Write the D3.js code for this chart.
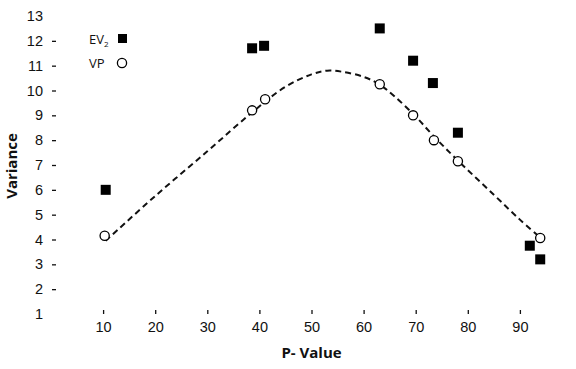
<!DOCTYPE html>
<html lang="en">
<head>
    <meta charset="UTF-8">
    <title>Variance vs P-Value</title>
    <style>
        body { margin: 0; background: #fff; }
        svg { display: block; font-family: "Open Sans", sans-serif; }
        .tick text { font-size: 14.5px; fill: #111; }
        .tick line { stroke: #111; stroke-width: 1.3; }
        .axis-title { font-size: 15px; font-weight: bold; fill: #111; }
    </style>
</head>
<body>
    <svg id="chart" width="576" height="369"></svg>

    <script src="https://d3js.org/d3.v7.min.js"></script>
    <script>
        // EV2 (filled squares)
        var ev2X = [10.5, 38.6, 40.9, 63.1, 69.5, 73.3, 78.1, 91.9, 93.9];
        var ev2Y = [6.0, 11.7, 11.8, 12.5, 11.2, 10.3, 8.3, 3.75, 3.2];

        // VP (open circles)
        var vpX = [10.3, 38.6, 41.1, 63.1, 69.5, 73.5, 78.1, 93.9];
        var vpY = [4.15, 9.2, 9.65, 10.25, 9.0, 8.0, 7.15, 4.06];

        // dashed fitted curve
        var fitX = [10.5, 20, 30, 38.5, 45, 50, 53, 56, 60, 63, 66, 70, 73.5, 78, 85, 90, 93.5];
        var fitY = [3.95, 5.75, 7.55, 9.1, 10.15, 10.65, 10.8, 10.75, 10.55, 10.25, 9.75, 8.95, 8.15, 7.2, 5.8, 4.8, 4.15];

        var xTicks = [10, 20, 30, 40, 50, 60, 70, 80, 90];
        var yTicks = [1, 2, 3, 4, 5, 6, 7, 8, 9, 10, 11, 12, 13];

        var svg = d3.select('#chart');

        var x = d3.scaleLinear().domain([0, 100]).range([51, 572]);
        var y = d3.scaleLinear().domain([1, 13]).range([314, 16]);

        // Y axis (no domain line, no dash at 1 and 13)
        var yAxis = svg.append('g')
            .attr('transform', 'translate(56,0)')
            .call(d3.axisLeft(y).tickValues(yTicks).tickSize(4).tickPadding(9));
        yAxis.select('.domain').remove();
        yAxis.selectAll('.tick').filter(d => d === 1 || d === 13).select('line').remove();

        // X axis
        var xAxis = svg.append('g')
            .attr('transform', 'translate(0,310)')
            .call(d3.axisBottom(x).tickValues(xTicks).tickSize(4).tickPadding(8));
        xAxis.select('.domain').remove();

        // Axis titles
        svg.append('text')
            .attr('class', 'axis-title')
            .attr('x', x(50))
            .attr('y', 358)
            .attr('text-anchor', 'middle')
            .text('P- Value');

        svg.append('text')
            .attr('class', 'axis-title')
            .attr('transform', 'translate(17,166) rotate(-90)')
            .attr('text-anchor', 'middle')
            .text('Variance');

        // Fitted curve
        var line = d3.line()
            .x(d => x(d[0]))
            .y(d => y(d[1]))
            .curve(d3.curveCatmullRom);

        svg.append('path')
            .datum(fitX.map((v, i) => [v, fitY[i]]))
            .attr('d', line)
            .attr('fill', 'none')
            .attr('stroke', '#111')
            .attr('stroke-width', 2)
            .attr('stroke-dasharray', '6,4');

        // EV2 squares
        var sq = 10;
        svg.selectAll('.ev2')
            .data(ev2X.map((v, i) => [v, ev2Y[i]]))
            .enter()
            .append('rect')
            .attr('class', 'ev2')
            .attr('x', d => x(d[0]) - sq / 2)
            .attr('y', d => y(d[1]) - sq / 2)
            .attr('width', sq)
            .attr('height', sq)
            .attr('fill', '#000');

        // VP circles
        svg.selectAll('.vp')
            .data(vpX.map((v, i) => [v, vpY[i]]))
            .enter()
            .append('circle')
            .attr('class', 'vp')
            .attr('cx', d => x(d[0]))
            .attr('cy', d => y(d[1]))
            .attr('r', 4.6)
            .attr('fill', '#fff')
            .attr('stroke', '#000')
            .attr('stroke-width', 1.3);

        // Legend
        var legend = svg.append('g').attr('class', 'legend');
        var ev2Label = legend.append('text')
            .attr('x', 89)
            .attr('y', 44)
            .style('font-size', '13px')
            .style('fill', '#111');
        ev2Label.append('tspan').text('EV');
        ev2Label.append('tspan').attr('dy', 3).style('font-size', '8px').text('2');

        legend.append('rect')
            .attr('x', 118)
            .attr('y', 34)
            .attr('width', 9)
            .attr('height', 9)
            .attr('fill', '#000');

        legend.append('text')
            .attr('x', 89)
            .attr('y', 68)
            .style('font-size', '13px')
            .style('fill', '#111')
            .text('VP');

        legend.append('circle')
            .attr('cx', 122)
            .attr('cy', 63)
            .attr('r', 4.6)
            .attr('fill', '#fff')
            .attr('stroke', '#000')
            .attr('stroke-width', 1.3);
    </script>
</body>
</html>
